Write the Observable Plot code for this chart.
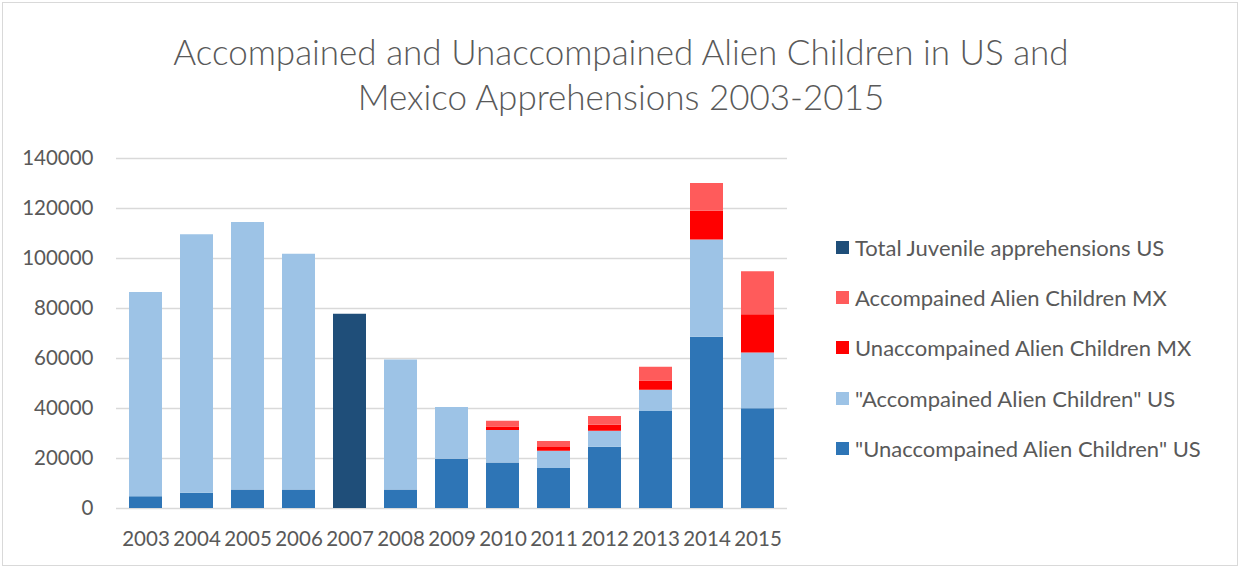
<!DOCTYPE html>
<html>
<head>
<meta charset="utf-8">
<script src="https://cdn.jsdelivr.net/npm/d3@7"></script>
<script src="https://cdn.jsdelivr.net/npm/@observablehq/plot@0.6"></script>
<style>
  html, body { margin: 0; padding: 0; background: #fff; }
  #chart { position: relative; width: 1242px; height: 569px; overflow: hidden; font-family: Lato, "Open Sans", sans-serif; color: #595959; }
  #frame { position: absolute; left: 2px; top: 2px; width: 1236px; height: 564px; border: 1px solid #d9d9d9; box-sizing: border-box; }
  #title { position: absolute; left: 0; width: 1242px; top: 29px; text-align: center; font-size: 35px; font-weight: 300; line-height: 45px; color: #595959; }
  #plot { position: absolute; left: 0; top: 140px; }
  #legend { position: absolute; left: 836px; top: 0; }
  .item { position: absolute; white-space: nowrap; font-size: 22px; display: flex; align-items: center; height: 26px; }
  .sw { width: 13px; height: 13px; margin-right: 6px; flex: none; }
</style>
</head>
<body>
<div id="chart">
  <div id="frame"></div>
  <div id="title">Accompained and Unaccompained Alien Children in US and<br>Mexico Apprehensions 2003-2015</div>
  <div id="plot"></div>
  <div id="legend"></div>
</div>
<script>
const years = ["2003","2004","2005","2006","2007","2008","2009","2010","2011","2012","2013","2014","2015"];
const seriesNames = [
  "\"Unaccompained Alien Children\" US",
  "\"Accompained Alien Children\" US",
  "Unaccompained Alien Children MX",
  "Accompained Alien Children MX",
  "Total Juvenile apprehensions US"
];
const seriesColors = ["#2E75B6", "#9DC3E6", "#FF0000", "#FF5B5B", "#1F4E79"];
const unaccUS = [4700, 6100, 7400, 7400, 0, 7400, 19700, 18200, 16000, 24500, 38800, 68500, 39900];
const accUS   = [81700, 103400, 107000, 94300, 0, 52000, 20700, 13000, 6900, 6400, 8500, 38900, 22300];
const unaccMX = [0, 0, 0, 0, 0, 0, 0, 1400, 1500, 2400, 3700, 11500, 15300];
const accMX   = [0, 0, 0, 0, 0, 0, 0, 2300, 2400, 3500, 5500, 11100, 17200];
const totalJuvUS = [0, 0, 0, 0, 77700, 0, 0, 0, 0, 0, 0, 0, 0];
const yTicks = [0, 20000, 40000, 60000, 80000, 100000, 120000, 140000];

const seriesValues = [unaccUS, accUS, unaccMX, accMX, totalJuvUS];
const rows = [];
seriesNames.forEach((s, si) => {
  years.forEach((y, i) => {
    rows.push({year: y, series: s, value: seriesValues[si][i], order: si});
  });
});

const chart = Plot.plot({
  width: 800,
  height: 420,
  marginLeft: 116,
  marginRight: 13,
  marginTop: 18,
  marginBottom: 52,
  style: {fontFamily: "Lato, 'Open Sans', sans-serif", fontSize: "20px", color: "#595959", background: "transparent"},
  x: {domain: years, paddingInner: 0.355, paddingOuter: 0.1775, label: null},
  y: {domain: [0, 140000], ticks: yTicks, label: null},
  color: {domain: seriesNames, range: seriesColors},
  marks: [
    Plot.gridY(yTicks, {stroke: "#d9d9d9", strokeOpacity: 1, strokeWidth: 1.3}),
    Plot.barY(rows, {x: "year", y: "value", fill: "series", order: seriesNames, inset: 0}),
    Plot.axisY(yTicks, {tickSize: 0, tickPadding: 23, tickFormat: d => String(d), fill: "#595959", fontSize: 20.5, label: null}),
    Plot.axisX({tickSize: 0, tickPadding: 23, fill: "#595959", fontSize: 20.5, label: null})
  ]
});
document.getElementById("plot").appendChild(chart);

const legendOrder = [4, 3, 2, 1, 0];
const legendY = [247, 297, 347, 398, 448];
const leg = document.getElementById("legend");
legendOrder.forEach((si, k) => {
  const it = document.createElement("div");
  it.className = "item";
  it.style.top = (legendY[k] - 13) + "px";
  const sw = document.createElement("span");
  sw.className = "sw";
  sw.style.background = seriesColors[si];
  const tx = document.createElement("span");
  tx.textContent = seriesNames[si];
  it.appendChild(sw);
  it.appendChild(tx);
  leg.appendChild(it);
});
</script>
</body>
</html>
